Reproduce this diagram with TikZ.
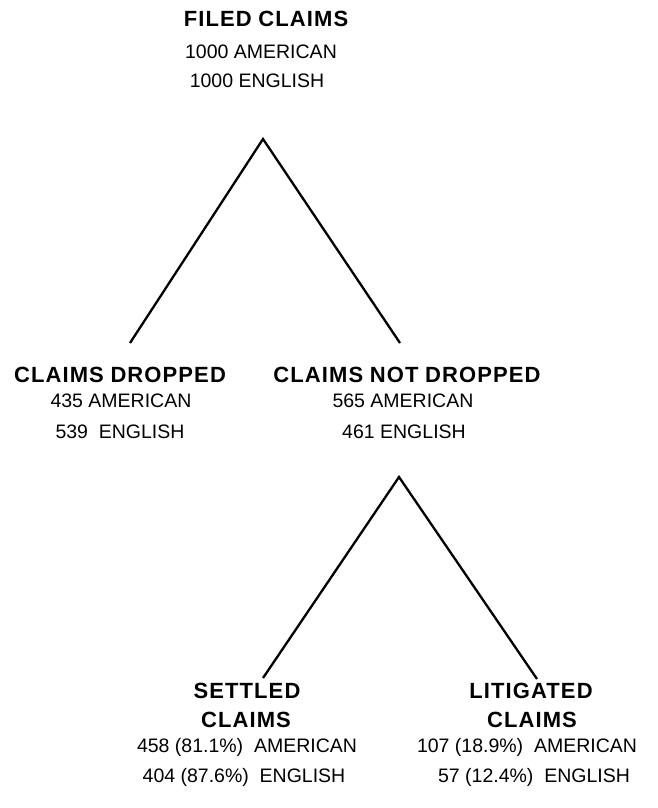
\documentclass[tikz,border=0pt]{standalone}
\usepackage{fontspec}
\setmainfont{Liberation Sans}
\newfontfamily\headfont[LetterSpace=5]{Liberation Sans Bold}
\begin{document}
\begin{tikzpicture}[x=1pt,y=-1pt,
  head/.style={font=\headfont\fontsize{22}{24}\selectfont, anchor=base, inner sep=0pt},
  body/.style={font=\fontsize{19.5}{22}\selectfont, anchor=base, inner sep=0pt},
  leg/.style={line width=2.3pt}]
\useasboundingbox (0,0) rectangle (658,808);
% top
\node[head] (filed) at (266,27) {FILED\hspace{0.3em}CLAIMS};
\node[body] (fa) at (261,59) {1000 AMERICAN};
\node[body] (fe) at (257,87) {1000 ENGLISH};
\coordinate (apex1) at (263,139);
\coordinate (l1) at (130,343);
\coordinate (r1) at (400,343);
\draw[leg] (l1) -- (apex1) -- (r1);
% middle
\node[head] (drop) at (120,382) {CLAIMS\hspace{0.3em}DROPPED};
\node[body] (da) at (121,407) {435 AMERICAN};
\node[body] (de) at (120,438) {539\ \ ENGLISH};
\node[head] (ndrop) at (407,382) {CLAIMS\hspace{0.3em}NOT\hspace{0.3em}DROPPED};
\node[body] (na) at (403,407) {565 AMERICAN};
\node[body] (ne) at (404,438) {461 ENGLISH};
\coordinate (apex2) at (399,477);
\coordinate (l2) at (263,678);
\coordinate (r2) at (537,679);
\draw[leg] (l2) -- (apex2) -- (r2);
% bottom
\node[head] (set1) at (247,698) {SETTLED};
\node[head] (set2) at (246,727) {CLAIMS};
\node[body] (sa) at (247,752) {458\ (81.1\%)\ \ AMERICAN};
\node[body] (se) at (244,782) {404\ (87.6\%)\ \ ENGLISH};
\node[head] (lit1) at (531,698) {LITIGATED};
\node[head] (lit2) at (532,727) {CLAIMS};
\node[body] (la) at (527,752) {107\ (18.9\%)\ \ AMERICAN};
\node[body] (le) at (534,782) {57\ (12.4\%)\ \ ENGLISH};
\end{tikzpicture}
\end{document}
